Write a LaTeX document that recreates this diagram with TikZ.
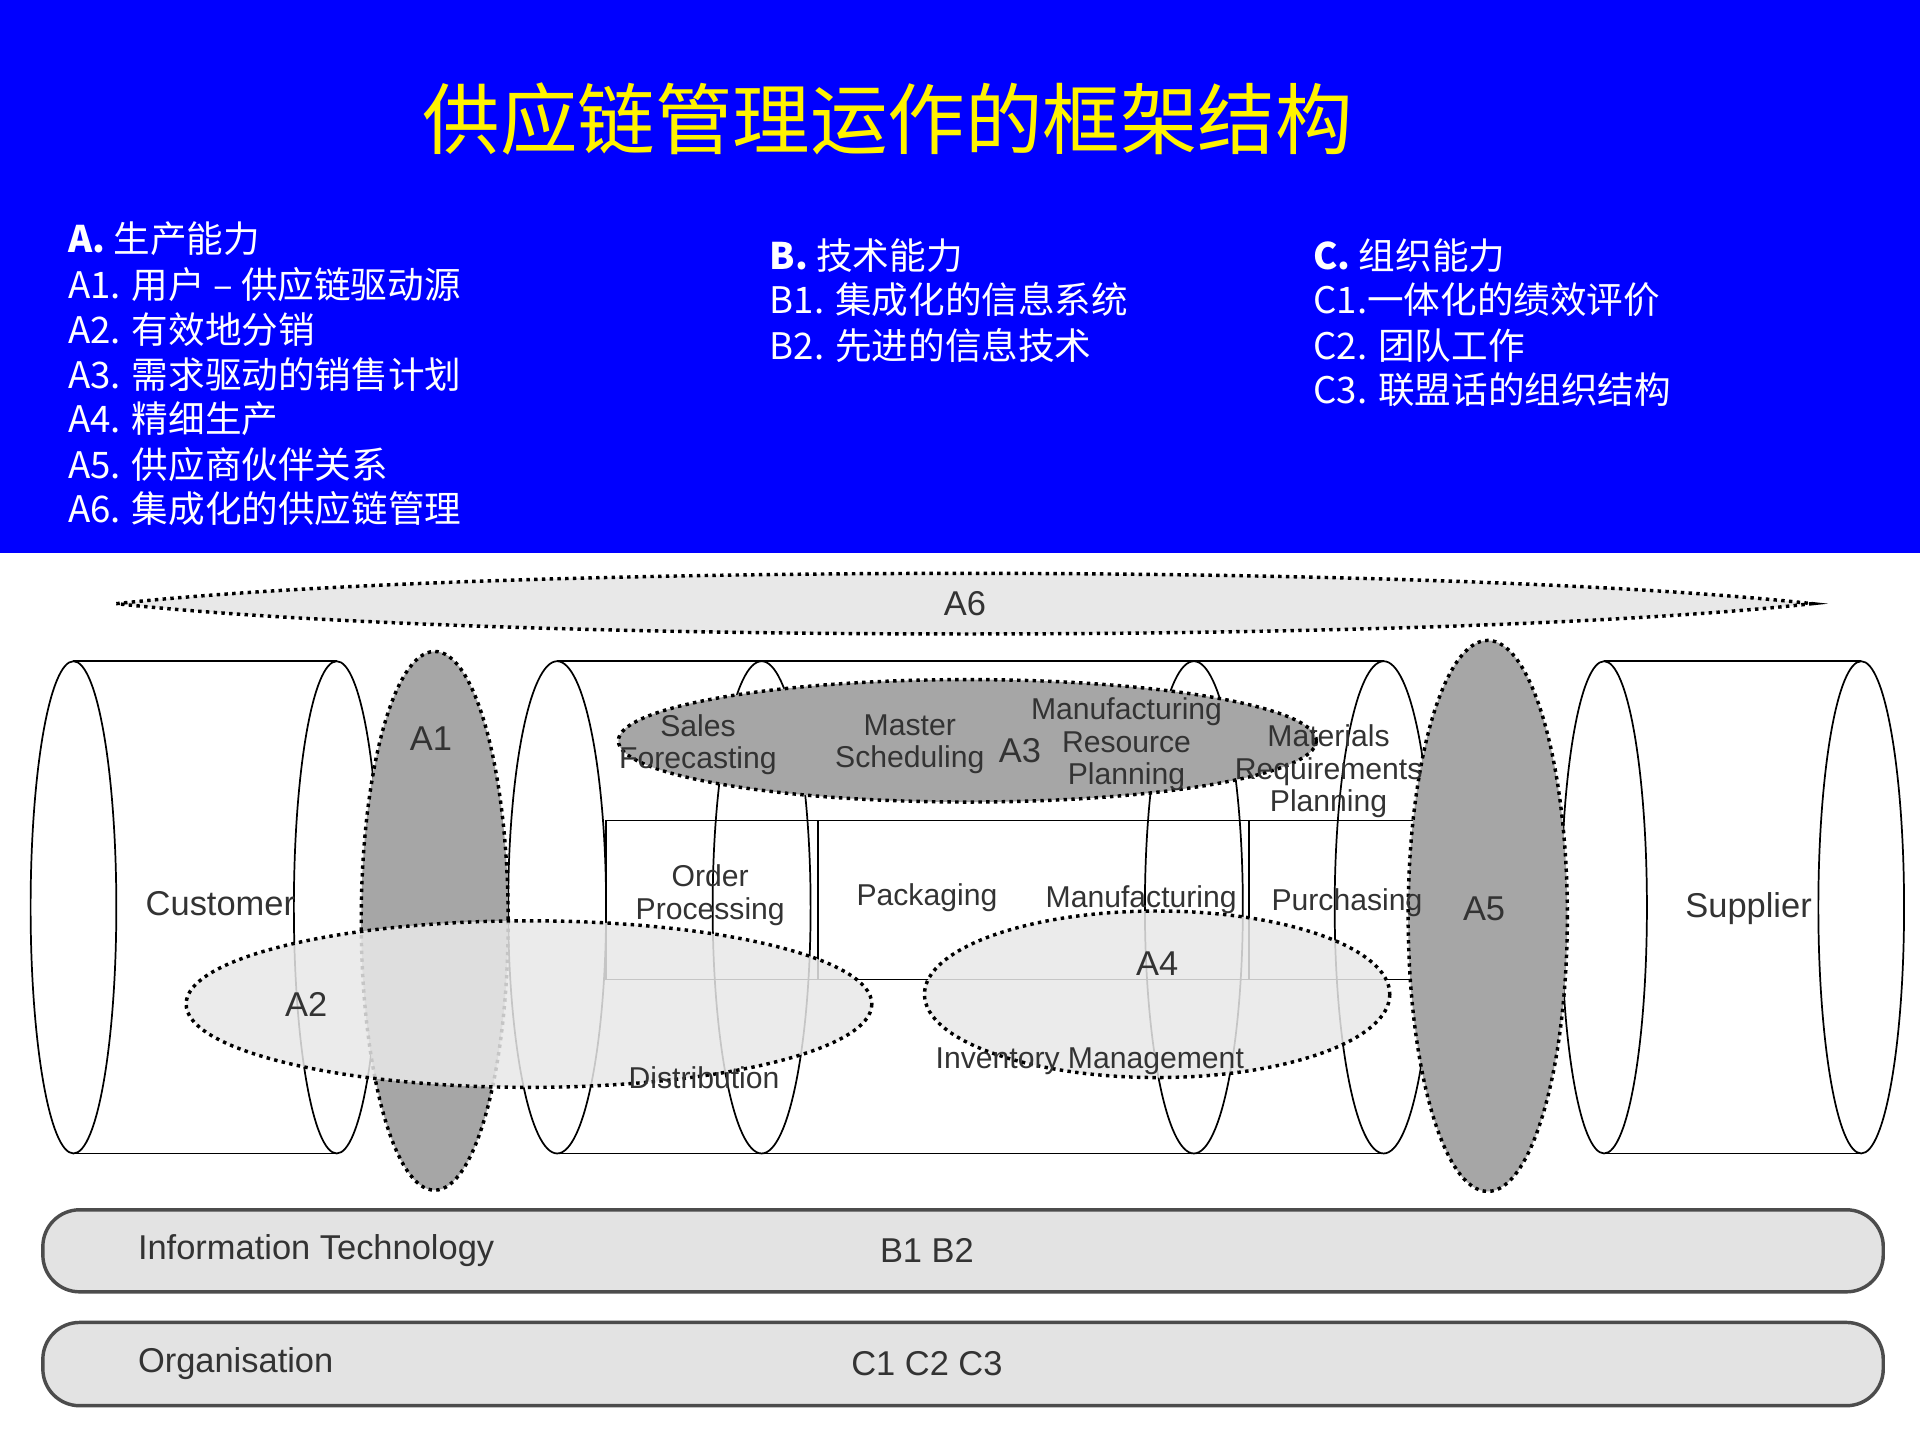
\documentclass[tikz,border=0pt]{standalone}
\usepackage{fontspec}
\setmainfont{Liberation Sans}
\newfontfamily\cjk{Noto Sans CJK SC}
\begin{document}
\begin{tikzpicture}[x=0.01cm,y=-0.01cm,
  hd/.style={anchor=west,text=white,font=\fontsize{8.5}{10}\selectfont\cjk,inner sep=0},
  lbl/.style={font=\fontsize{8}{9}\selectfont,text=black!80,inner sep=0,align=center},
  sm/.style={font=\fontsize{7}{7.5}\selectfont,text=black!80,inner sep=0,align=center},
  dk/.style={draw=black,fill=gray!70,densely dotted,thick},
  lt/.style={draw=black,fill=gray!18,densely dotted,thick},
  cyl/.style={draw=black,thin},
  bar/.style={draw=black!70,fill=gray!22,rounded corners=0.3cm,thick}]
\useasboundingbox (0,0) rectangle (1568,1176);
\fill[white] (0,0) rectangle (1568,1176);
\fill[blue] (0,0) rectangle (1568,452);
\node[text=yellow,font=\fontsize{18}{20}\selectfont\cjk,inner sep=0] (title) at (725,97) {供应链管理运作的框架结构};
\node[hd] (a0) at (55,195) {\textbf{A.} 生产能力};
\node[hd] (a1) at (55,232) {A1. 用户 – 供应链驱动源};
\node[hd] (a2) at (55,269) {A2. 有效地分销};
\node[hd] (a3) at (55,306) {A3. 需求驱动的销售计划};
\node[hd] (a4) at (55,342) {A4. 精细生产};
\node[hd] (a5) at (55,379) {A5. 供应商伙伴关系};
\node[hd] (a6) at (55,415) {A6. 集成化的供应链管理};
\node[hd] (b0) at (628,209) {\textbf{B.} 技术能力};
\node[hd] (b1) at (628,245) {B1. 集成化的信息系统};
\node[hd] (b2) at (628,282) {B2. 先进的信息技术};
\node[hd] (c0) at (1072,209) {\textbf{C.} 组织能力};
\node[hd] (c1) at (1072,245) {C1.一体化的绩效评价};
\node[hd] (c2) at (1072,282) {C2. 团队工作};
\node[hd] (c3) at (1072,318) {C3. 联盟话的组织结构};
% A6
\draw[lt] (95,493) .. controls (400,460) and (1180,460) .. (1480,493) .. controls (1180,526) and (400,526) .. (95,493);
\node[lbl] (la6) at (788,493) {A6};
% cylinders
\draw[cyl] (60,540) -- (275,540) (60,942) -- (275,942);
\draw[cyl] (60,741) ellipse (35 and 201);
\draw[cyl] (275,741) ellipse (35 and 201);
\draw[cyl] (455,540) -- (1130,540) (455,942) -- (1130,942);
\draw[cyl] (455,741) ellipse (40 and 201);
\draw[cyl] (1130,741) ellipse (40 and 201);
\draw[cyl] (622,741) ellipse (40 and 201);
\draw[cyl] (975,741) ellipse (40 and 201);
\draw[cyl] (1310,540) -- (1520,540) (1310,942) -- (1520,942);
\draw[cyl] (1310,741) ellipse (35 and 201);
\draw[cyl] (1520,741) ellipse (35 and 201);
\draw[cyl] (495,670) rectangle (1170,800);
\draw[cyl] (668,670) -- (668,800) (1020,670) -- (1020,800);
% A1 A5
\draw[dk] (355,752) ellipse (60 and 220);
\draw[dk] (1215,748) ellipse (65 and 225);
% A3
\draw[dk] (790,605) ellipse (285 and 50);
% A2 A4
\draw[lt,fill opacity=0.85] (432,820) ellipse (280 and 68);
\draw[lt,fill opacity=0.85] (945,812) ellipse (190 and 68);
\node[lbl] (l1) at (352,603) {A1};
\node[lbl] (l5) at (1212,742) {A5};
\node[lbl] (l3) at (833,613) {A3};
\node[lbl] (l2) at (250,820) {A2};
\node[lbl] (l4) at (945,787) {A4};
\node[lbl] (cust) at (180,738) {Customer};
\node[lbl] (sup) at (1428,742) {Supplier};
\node[sm] (sf) at (570,608) {Sales\\Forecasting};
\node[sm] (ms) at (743,608) {Master\\Scheduling};
\node[sm] (mrp) at (920,608) {Manufacturing\\Resource\\Planning};
\node[sm] (mat) at (1085,630) {Materials\\Requirements\\Planning};
\node[sm] (op) at (580,731) {Order\\Processing};
\node[sm] (pk) at (757,733) {Packaging};
\node[sm] (mf) at (932,735) {Manufacturing};
\node[sm] (pu) at (1100,737) {Purchasing};
\node[sm] (di) at (575,880) {Distribution};
\node[sm] (im) at (890,867) {Inventory Management};
% bars
\draw[bar] (35,988) rectangle (1538,1055);
\draw[bar] (35,1080) rectangle (1538,1148);
\node[lbl,anchor=west] (it) at (112,1021) {Information Technology};
\node[lbl] (bb) at (757,1021) {B1 B2};
\node[lbl,anchor=west] (org) at (112,1114) {Organisation};
\node[lbl] (cc) at (757,1114) {C1 C2 C3};
\end{tikzpicture}
\end{document}
